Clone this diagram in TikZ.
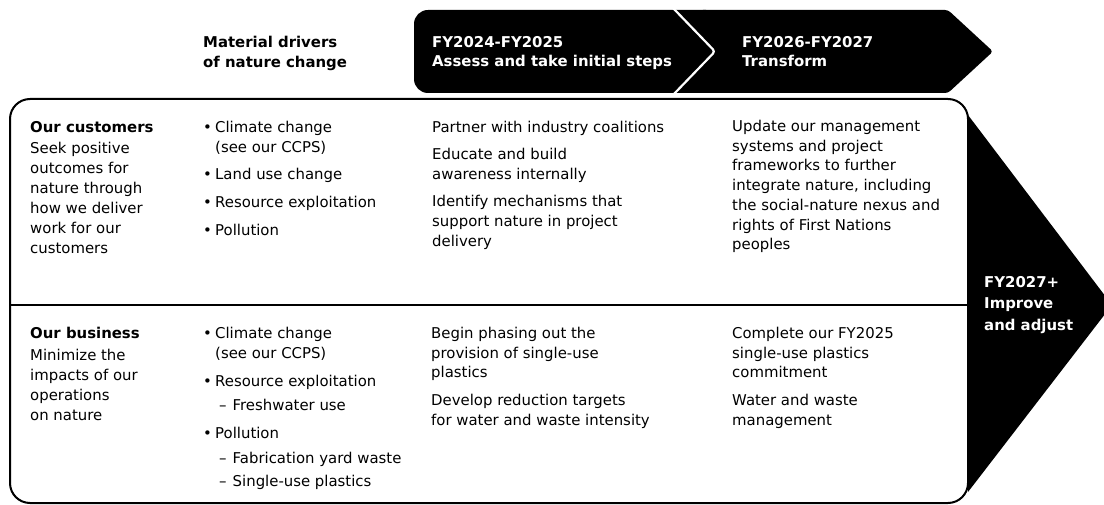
\documentclass[tikz,border=0pt]{standalone}
\usepackage{fontspec}
\setmainfont{DejaVu Sans}
\newcommand{\bul}{\makebox[12pt][l]{•}}
\newcommand{\bsp}{\hspace*{12pt}}
\newcommand{\subd}{\hspace*{16pt}\makebox[13.5pt][l]{–}}
\newcommand{\topstrut}{\rule{0pt}{12pt}}
\begin{document}
\begin{tikzpicture}[x=1pt,y=-1pt,
  txt/.style={anchor=north west, align=left, inner sep=0pt, font=\fontsize{14.9}{19.7}\selectfont, execute at begin node=\topstrut},
  txtw/.style={txt, font=\fontsize{14.9}{20}\selectfont},
  hdr/.style={txt, font=\bfseries\fontsize{14.9}{19.5}\selectfont},
  whdr/.style={hdr, text=white},
  arr/.style={txt, text=white, font=\bfseries\fontsize{14.9}{21.5}\selectfont}]
\useasboundingbox (0,0) rectangle (1104,505);
\clip (0,0) rectangle (1104,505);
% header chevrons
\fill[black, rounded corners=14pt] (414,10) rectangle (720,93);
\fill[black, rounded corners=3pt] (700,10) -- (948,10) -- (993,51.5) -- (948,93) -- (700,93) -- cycle;
\draw[white, line width=2.2pt, rounded corners=3pt] (673,8) -- (715,51.5) -- (673,95);
% big right arrow
\fill[black] (968,115) -- (1112,305) -- (968,492) -- cycle;
% main box
\draw[line width=2pt, rounded corners=20pt] (10,99) rectangle (968,503);
\draw[line width=2pt] (10,305) -- (968,305);
% headers (y = first baseline - 12)
\node[hdr] (drivers) at (203,36) {Material drivers\\of nature change};
\node[whdr] (ph1) at (432,36) {FY2024-FY2025\\Assess and take initial steps};
\node[whdr] (ph2) at (742,36) {FY2026-FY2027\\Transform};
\node[arr] (ph3) at (984,276) {FY2027+\\Improve\\and adjust};
% top row
\node[txtw] (c1) at (30,121) {\textbf{Our customers}\\[1pt]Seek positive\\outcomes for\\nature through\\how we deliver\\work for our\\customers};
\node[txt] (c2) at (203,121) {\bul Climate change\\\bsp(see our CCPS)\\[8pt]\bul Land use change\\[8pt]\bul Resource exploitation\\[8pt]\bul Pollution};
\node[txt] (c3) at (432,121) {Partner with industry coalitions\\[7.5pt]Educate and build\\awareness internally\\[7.5pt]Identify mechanisms that\\support nature in project\\delivery};
\node[txt] (c4) at (732,120) {Update our management\\systems and project\\frameworks to further\\integrate nature, including\\the social-nature nexus and\\rights of First Nations\\peoples};
% bottom row
\node[txtw] (b1) at (30,327) {\textbf{Our business}\\[1.5pt]Minimize the\\impacts of our\\operations\\on nature};
\node[txt] (b2) at (203,327) {\bul Climate change\\\bsp(see our CCPS)\\[8.5pt]\bul Resource exploitation\\[4.5pt]\subd Freshwater use\\[8.5pt]\bul Pollution\\[5pt]\subd Fabrication yard waste\\[3pt]\subd Single-use plastics};
\node[txt] (b3) at (431,327) {Begin phasing out the\\provision of single-use\\plastics\\[8pt]Develop reduction targets\\for water and waste intensity};
\node[txt] (b4) at (732,327) {Complete our FY2025\\single-use plastics\\commitment\\[8pt]Water and waste\\management};
\end{tikzpicture}
\end{document}
